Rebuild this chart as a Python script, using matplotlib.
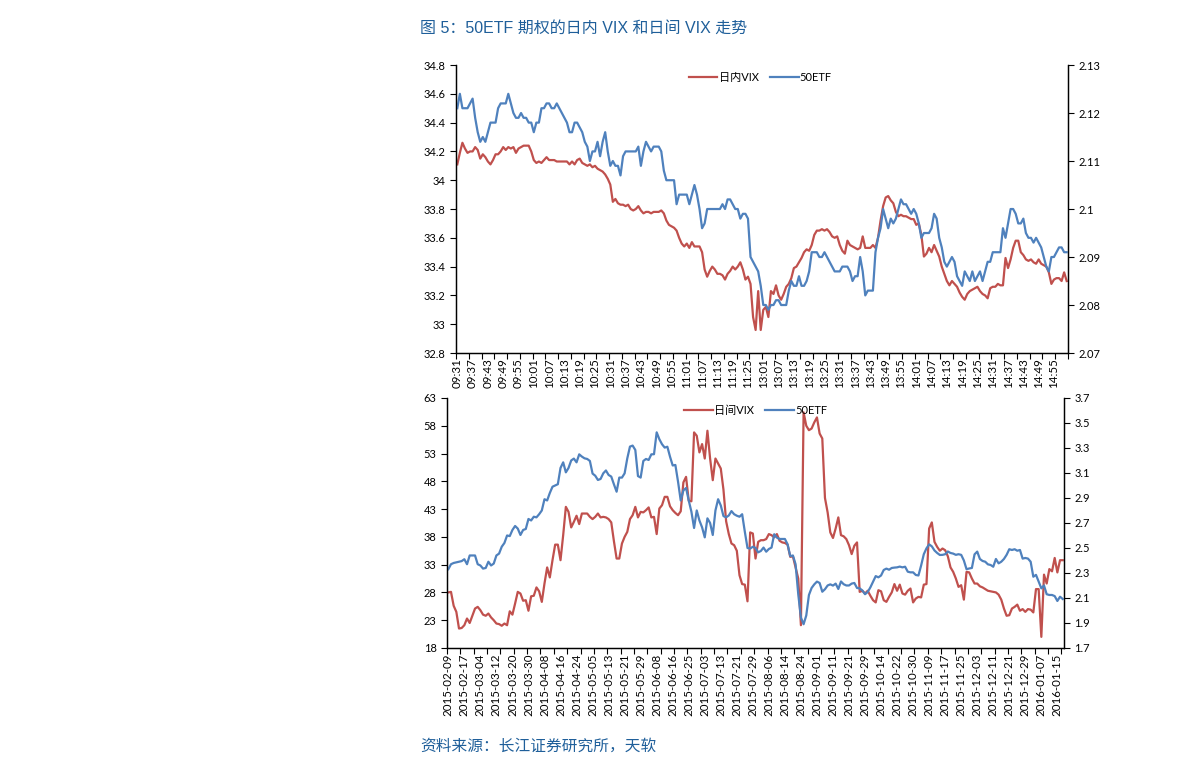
import matplotlib
matplotlib.use("Agg")
import matplotlib.pyplot as plt
import numpy as np

plt.rcParams['font.family'] = ['Lato', 'Noto Sans CJK SC', 'DejaVu Sans']

# ---- intraday panel: 240 one-minute points (09:31-11:30, 13:01-15:00)
intra_vix = [
    34.11, 34.19, 34.26, 34.22, 34.19, 34.20, 34.20, 34.23, 34.21, 34.15,
    34.18, 34.16, 34.13, 34.11, 34.14, 34.18, 34.18, 34.20, 34.23, 34.21,
    34.23, 34.22, 34.23, 34.19, 34.22, 34.23, 34.24, 34.24, 34.24, 34.20,
    34.14, 34.12, 34.13, 34.12, 34.14, 34.16, 34.14, 34.14, 34.14, 34.13,
    34.13, 34.13, 34.13, 34.13, 34.11, 34.13, 34.11, 34.14, 34.15, 34.12,
    34.11, 34.10, 34.11, 34.09, 34.10, 34.08, 34.07, 34.06, 34.04, 34.01,
    33.97, 33.85, 33.87, 33.84, 33.83, 33.83, 33.82, 33.83, 33.80, 33.79,
    33.80, 33.82, 33.79, 33.77, 33.78, 33.78, 33.77, 33.78, 33.78, 33.78,
    33.79, 33.77, 33.72, 33.69, 33.68, 33.67, 33.65, 33.60, 33.56, 33.54,
    33.56, 33.53, 33.57, 33.54, 33.54, 33.54, 33.50, 33.38, 33.33, 33.37,
    33.40, 33.38, 33.35, 33.35, 33.34, 33.31, 33.35, 33.37, 33.40, 33.38,
    33.40, 33.43, 33.38, 33.31, 33.33, 33.28, 33.05, 32.96, 33.23, 32.96,
    33.10, 33.12, 33.05, 33.23, 33.21, 33.27, 33.20, 33.17, 33.21, 33.26,
    33.28, 33.32, 33.39, 33.40, 33.43, 33.46, 33.50, 33.52, 33.51, 33.55,
    33.62, 33.65, 33.65, 33.66, 33.65, 33.66, 33.64, 33.61, 33.60, 33.61,
    33.55, 33.51, 33.49, 33.58, 33.55, 33.54, 33.53, 33.52, 33.53, 33.61,
    33.53, 33.53, 33.53, 33.55, 33.53, 33.60, 33.72, 33.82, 33.88, 33.89,
    33.86, 33.84, 33.78, 33.75, 33.76, 33.75, 33.75, 33.74, 33.73, 33.73,
    33.69, 33.70, 33.62, 33.47, 33.49, 33.53, 33.50, 33.55, 33.51, 33.47,
    33.40, 33.35, 33.30, 33.27, 33.30, 33.28, 33.26, 33.22, 33.19, 33.17,
    33.21, 33.23, 33.24, 33.25, 33.26, 33.23, 33.21, 33.20, 33.18, 33.25,
    33.26, 33.26, 33.28, 33.27, 33.27, 33.46, 33.39, 33.45, 33.53, 33.58,
    33.58, 33.50, 33.48, 33.45, 33.44, 33.45, 33.43, 33.42, 33.45, 33.42,
    33.41, 33.40, 33.36, 33.28, 33.31, 33.32, 33.32, 33.30, 33.36, 33.30,
]
intra_etf = [
    2.121, 2.124, 2.121, 2.121, 2.121, 2.122, 2.123, 2.119, 2.116, 2.114,
    2.115, 2.114, 2.116, 2.118, 2.118, 2.118, 2.121, 2.122, 2.122, 2.122,
    2.124, 2.122, 2.120, 2.119, 2.119, 2.120, 2.119, 2.119, 2.118, 2.118,
    2.116, 2.118, 2.118, 2.121, 2.121, 2.122, 2.122, 2.121, 2.121, 2.122,
    2.121, 2.120, 2.119, 2.118, 2.116, 2.116, 2.118, 2.118, 2.117, 2.116,
    2.114, 2.113, 2.110, 2.112, 2.112, 2.114, 2.111, 2.114, 2.116, 2.112,
    2.109, 2.110, 2.109, 2.109, 2.107, 2.111, 2.112, 2.112, 2.112, 2.112,
    2.112, 2.113, 2.109, 2.112, 2.114, 2.113, 2.112, 2.113, 2.113, 2.113,
    2.112, 2.108, 2.106, 2.106, 2.106, 2.106, 2.101, 2.103, 2.103, 2.103,
    2.103, 2.101, 2.103, 2.105, 2.103, 2.100, 2.096, 2.097, 2.100, 2.100,
    2.100, 2.100, 2.100, 2.100, 2.101, 2.100, 2.102, 2.102, 2.101, 2.100,
    2.100, 2.098, 2.099, 2.099, 2.098, 2.090, 2.089, 2.088, 2.087, 2.084,
    2.080, 2.080, 2.079, 2.080, 2.080, 2.081, 2.081, 2.080, 2.080, 2.080,
    2.083, 2.085, 2.084, 2.084, 2.086, 2.084, 2.084, 2.085, 2.087, 2.091,
    2.091, 2.091, 2.090, 2.090, 2.091, 2.090, 2.089, 2.088, 2.087, 2.087,
    2.087, 2.088, 2.088, 2.088, 2.087, 2.085, 2.086, 2.086, 2.090, 2.087,
    2.082, 2.083, 2.083, 2.083, 2.091, 2.094, 2.096, 2.100, 2.098, 2.096,
    2.098, 2.097, 2.098, 2.100, 2.102, 2.101, 2.101, 2.100, 2.099, 2.100,
    2.099, 2.097, 2.094, 2.095, 2.095, 2.095, 2.096, 2.099, 2.098, 2.094,
    2.092, 2.089, 2.088, 2.089, 2.090, 2.089, 2.086, 2.085, 2.084, 2.087,
    2.086, 2.085, 2.087, 2.085, 2.086, 2.087, 2.085, 2.087, 2.089, 2.089,
    2.091, 2.091, 2.091, 2.091, 2.096, 2.094, 2.097, 2.100, 2.100, 2.099,
    2.097, 2.097, 2.098, 2.095, 2.094, 2.094, 2.093, 2.094, 2.093, 2.092,
    2.090, 2.088, 2.087, 2.090, 2.090, 2.091, 2.092, 2.092, 2.091, 2.091,
]
time_labels = [
    '09:31', '09:37', '09:43', '09:49', '09:55', '10:01', '10:07', '10:13',
    '10:19', '10:25', '10:31', '10:37', '10:43', '10:49', '10:55', '11:01',
    '11:07', '11:13', '11:19', '11:25', '13:01', '13:07', '13:13', '13:19',
    '13:25', '13:31', '13:37', '13:43', '13:49', '13:55', '14:01', '14:07',
    '14:13', '14:19', '14:25', '14:31', '14:37', '14:43', '14:49', '14:55',
]

# ---- daily panel: 231 trading days 2015-02-09 .. 2016-01-19
daily_vix = [
    28.0, 28.1, 25.6, 24.5, 21.5, 21.6, 22.1, 23.3, 22.5, 23.8,
    25.1, 25.4, 24.8, 24.0, 23.8, 24.2, 23.5, 23.0, 22.4, 22.3,
    22.0, 22.4, 22.1, 24.6, 24.0, 26.0, 28.1, 27.8, 26.5, 26.6,
    24.7, 27.3, 27.4, 28.9, 28.2, 26.3, 29.6, 32.5, 30.7, 33.8,
    36.6, 36.6, 33.8, 38.3, 43.4, 42.5, 39.7, 40.7, 41.8, 40.3,
    42.2, 42.2, 42.2, 41.6, 41.2, 41.6, 42.2, 41.5, 41.6, 41.5,
    41.2, 40.6, 37.2, 34.1, 34.1, 36.8, 38.0, 38.9, 41.2, 41.9,
    43.4, 41.5, 42.5, 42.4, 42.8, 43.3, 41.5, 41.6, 38.5, 43.1,
    43.7, 45.2, 45.2, 43.5, 42.8, 42.3, 41.9, 42.6, 47.8, 48.8,
    44.5, 44.4, 56.8, 56.2, 53.2, 54.7, 52.1, 57.1, 52.1, 48.2,
    52.1, 51.2, 50.3, 46.5, 40.8, 38.5, 36.8, 36.5, 35.5, 31.1,
    29.5, 29.4, 26.4, 38.8, 38.6, 34.1, 37.1, 37.4, 37.4, 37.6,
    38.5, 38.3, 37.9, 38.5, 37.3, 37.0, 36.9, 36.6, 34.4, 34.5,
    32.5, 30.5, 22.1, 60.4, 58.0, 57.2, 57.5, 58.6, 59.5, 56.6,
    55.7, 45.0, 42.4, 38.8, 37.8, 39.5, 41.5, 38.3, 38.1, 37.6,
    36.5, 34.9, 36.4, 37.0, 28.1, 28.3, 27.8, 28.3, 27.4, 26.6,
    26.2, 28.4, 28.2, 26.6, 26.3, 27.2, 28.0, 29.5, 28.3, 29.4,
    27.8, 27.6, 28.3, 28.7, 26.2, 26.9, 27.2, 27.1, 29.4, 29.5,
    39.5, 40.6, 37.1, 36.2, 35.5, 35.9, 35.6, 34.5, 32.5, 31.7,
    30.5, 29.0, 29.3, 26.7, 31.7, 31.6, 30.5, 29.6, 29.6, 29.1,
    28.9, 28.6, 28.3, 28.2, 28.1, 28.0, 27.6, 26.7, 25.1, 23.8,
    23.9, 25.1, 25.4, 25.8, 24.7, 25.0, 24.5, 25.0, 24.9, 24.4,
    28.6, 28.6, 20.0, 31.2, 29.6, 32.2, 31.8, 34.2, 31.6, 33.8,
    33.8,
]
daily_etf = [
    2.330, 2.370, 2.380, 2.385, 2.390, 2.395, 2.410, 2.370, 2.440, 2.440,
    2.440, 2.370, 2.360, 2.335, 2.340, 2.390, 2.360, 2.375, 2.440, 2.455,
    2.510, 2.540, 2.600, 2.595, 2.644, 2.676, 2.655, 2.604, 2.644, 2.652,
    2.732, 2.720, 2.750, 2.745, 2.770, 2.800, 2.890, 2.880, 2.940, 2.990,
    3.000, 3.010, 3.140, 3.185, 3.105, 3.140, 3.200, 3.215, 3.185, 3.249,
    3.231, 3.217, 3.212, 3.196, 3.095, 3.078, 3.044, 3.052, 3.097, 3.120,
    3.084, 3.071, 3.009, 2.950, 3.063, 3.063, 3.097, 3.217, 3.311, 3.319,
    3.284, 3.075, 3.063, 3.196, 3.212, 3.204, 3.249, 3.250, 3.425, 3.370,
    3.330, 3.303, 3.310, 3.230, 3.160, 3.164, 3.030, 2.880, 2.960, 2.980,
    2.880, 2.790, 2.660, 2.800, 2.720, 2.665, 2.585, 2.737, 2.700, 2.604,
    2.800, 2.890, 2.840, 2.755, 2.745, 2.760, 2.795, 2.770, 2.758, 2.750,
    2.770, 2.630, 2.500, 2.495, 2.510, 2.500, 2.465, 2.476, 2.503, 2.470,
    2.492, 2.503, 2.610, 2.583, 2.572, 2.572, 2.572, 2.530, 2.435, 2.440,
    2.370, 2.130, 1.943, 1.890, 1.960, 2.124, 2.180, 2.209, 2.231, 2.220,
    2.150, 2.170, 2.200, 2.209, 2.199, 2.215, 2.172, 2.232, 2.210, 2.200,
    2.200, 2.215, 2.220, 2.180, 2.177, 2.160, 2.130, 2.148, 2.185, 2.230,
    2.275, 2.265, 2.280, 2.324, 2.335, 2.326, 2.340, 2.343, 2.345, 2.351,
    2.345, 2.350, 2.310, 2.305, 2.305, 2.284, 2.280, 2.360, 2.450, 2.497,
    2.529, 2.513, 2.480, 2.460, 2.444, 2.445, 2.450, 2.472, 2.460, 2.455,
    2.445, 2.450, 2.445, 2.400, 2.330, 2.336, 2.340, 2.449, 2.471, 2.412,
    2.396, 2.390, 2.369, 2.364, 2.350, 2.412, 2.377, 2.390, 2.412, 2.445,
    2.490, 2.484, 2.490, 2.478, 2.484, 2.415, 2.420, 2.415, 2.390, 2.270,
    2.285, 2.230, 2.177, 2.200, 2.130, 2.124, 2.124, 2.115, 2.076, 2.110,
    2.092,
]
date_labels = [
    '2015-02-09', '2015-02-17', '2015-03-04', '2015-03-12', '2015-03-20',
    '2015-03-30', '2015-04-08', '2015-04-16', '2015-04-24', '2015-05-05',
    '2015-05-13', '2015-05-21', '2015-05-29', '2015-06-08', '2015-06-16',
    '2015-06-25', '2015-07-03', '2015-07-13', '2015-07-21', '2015-07-29',
    '2015-08-06', '2015-08-14', '2015-08-24', '2015-09-01', '2015-09-11',
    '2015-09-21', '2015-09-29', '2015-10-14', '2015-10-22', '2015-10-30',
    '2015-11-09', '2015-11-17', '2015-11-25', '2015-12-03', '2015-12-11',
    '2015-12-21', '2015-12-29', '2016-01-07', '2016-01-15',
]

RED = '#C0504D'
BLUE = '#4F81BD'
LW = 1.6
FS = 8


def style_panel(ax, ax2, n, labels):
    # category axis: tick marks every 5 points, labels every 6 points
    ax.set_xlim(0, n)
    ax.set_xticks(np.arange(0, n + 1, 5))
    ax.set_xticklabels([])
    ax.set_xticks(np.arange(len(labels)) * 6 + 0.5, minor=True)
    ax.set_xticklabels(labels, minor=True, rotation=90, fontsize=FS + 0.3)
    ax.tick_params(axis='x', which='major', direction='out', length=4, width=0.8)
    ax.tick_params(axis='x', which='minor', length=0, pad=4)
    ax.tick_params(axis='y', direction='out', length=4, width=0.8, labelsize=FS)
    ax2.tick_params(axis='y', direction='out', length=4, width=0.8, labelsize=FS)
    for a in (ax, ax2):
        a.spines['top'].set_visible(False)
        for s in ('left', 'right', 'bottom'):
            a.spines[s].set_linewidth(0.9)


fig = plt.figure(figsize=(11.91, 7.75), dpi=100)

# ---------------- top panel
ax1 = fig.add_axes([0.3829, 0.5445, 0.5138, 0.3716])
ax1b = ax1.twinx()
x1 = np.arange(len(intra_vix)) + 0.5
l1, = ax1.plot(x1, intra_vix, color=RED, lw=LW, label='日内VIX')
l2, = ax1b.plot(x1, intra_etf, color=BLUE, lw=LW, label='50ETF')
ax1.set_ylim(32.8, 34.8)
ax1.set_yticks(np.arange(32.8, 34.81, 0.2))
ax1.set_yticklabels(['32.8', '33', '33.2', '33.4', '33.6', '33.8', '34',
                     '34.2', '34.4', '34.6', '34.8'])
ax1b.set_ylim(2.07, 2.13)
ax1b.set_yticks(np.arange(2.07, 2.1301, 0.01))
ax1b.set_yticklabels(['2.07', '2.08', '2.09', '2.1', '2.11', '2.12', '2.13'])
style_panel(ax1, ax1b, len(intra_vix), time_labels)
ax1b.legend([l1, l2], ['日内VIX', '50ETF'], loc='upper center',
            bbox_to_anchor=(0.497, 1.01), ncol=2, frameon=False, fontsize=FS,
            handlelength=2.6, columnspacing=1.0, handletextpad=0.1)

# ---------------- bottom panel
ax2 = fig.add_axes([0.3753, 0.1639, 0.5181, 0.3226])
ax2b = ax2.twinx()
x2 = np.arange(len(daily_vix)) + 0.5
m1, = ax2.plot(x2, daily_vix, color=RED, lw=LW)
m2, = ax2b.plot(x2, daily_etf, color=BLUE, lw=LW)
ax2.set_ylim(18, 63)
ax2.set_yticks(np.arange(18, 64, 5))
ax2b.set_ylim(1.7, 3.7)
ax2b.set_yticks(np.arange(1.7, 3.71, 0.2))
ax2b.set_yticklabels(['1.7', '1.9', '2.1', '2.3', '2.5', '2.7', '2.9',
                      '3.1', '3.3', '3.5', '3.7'])
style_panel(ax2, ax2b, len(daily_vix), date_labels)
ax2b.legend([m1, m2], ['日间VIX', '50ETF'], loc='upper center',
            bbox_to_anchor=(0.5, 1.012), ncol=2, frameon=False, fontsize=FS,
            handlelength=2.6, columnspacing=1.0, handletextpad=0.1)

# ---------------- title and source
fig.text(0.3527, 0.963, '图 5：50ETF 期权的日内 VIX 和日间 VIX 走势',
         fontsize=11.5, color='#1F5F9A', va='center',
         family=['Liberation Sans', 'Noto Sans CJK SC', 'DejaVu Sans'])
fig.text(0.3527, 0.037, '资料来源：长江证券研究所，天软',
         fontsize=11.3, color='#1F5F9A', va='center',
         family=['Noto Sans CJK SC', 'DejaVu Sans'])

fig.savefig('out.png', dpi=100)
